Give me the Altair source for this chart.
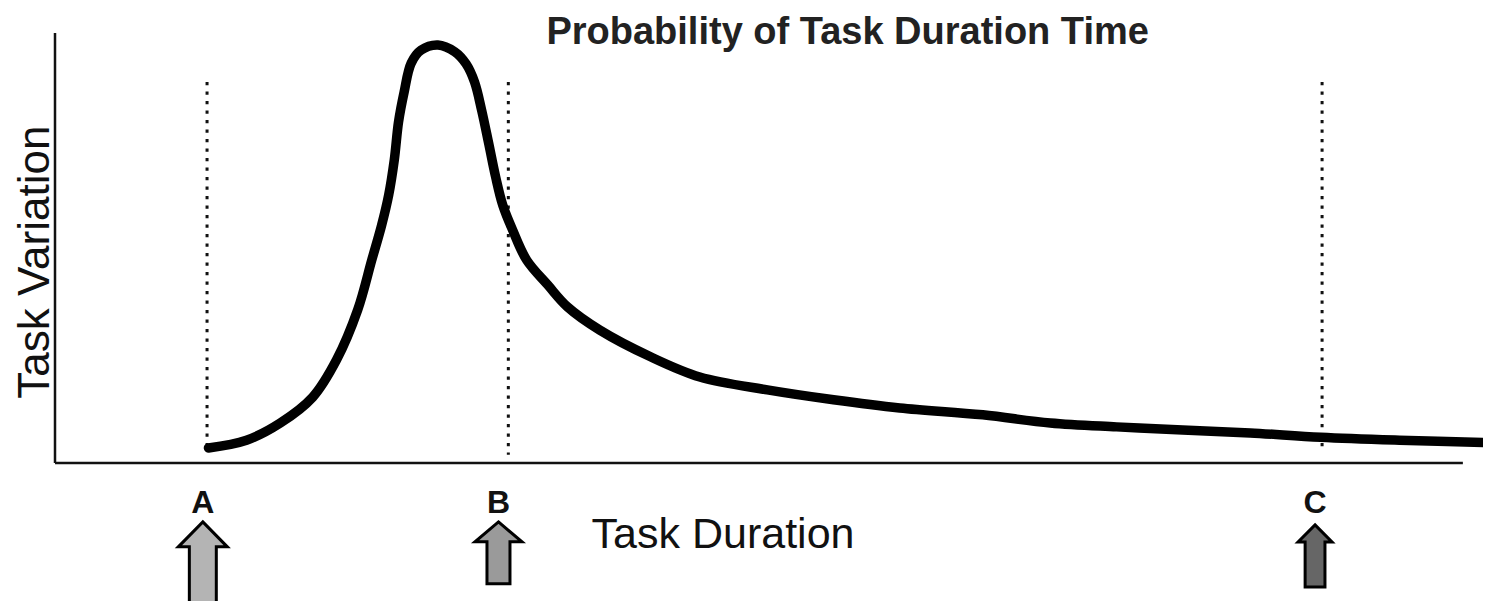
import altair as alt
import pandas as pd

# Curve: task duration (x) vs task variation (y)
curve_x = [10.9, 13.6, 16.0, 18.3, 20.0, 21.5, 22.5, 23.2, 23.7, 24.1, 24.4, 24.8, 25.3, 26.0,
           27.2, 28.4, 29.2, 29.8, 30.3, 30.8, 31.3, 31.8, 32.5, 33.5, 35.0, 36.4, 38.7, 42.3,
           45.8, 50.6, 55.3, 60.0, 65.9, 70.7, 75.4, 80.1, 84.9, 89.9, 95.5, 102.0]
curve_y = [3.5, 5.3, 9.3, 15.3, 24.0, 35.6, 47.2, 55.3, 62.3, 70.5, 79.3, 86.3, 93.0, 96.0,
           97.2, 95.6, 92.8, 88.6, 82.1, 74.4, 66.5, 60.0, 54.2, 47.2, 41.4, 36.3, 30.9, 24.7,
           20.0, 17.0, 14.7, 12.8, 11.2, 9.3, 8.4, 7.7, 7.0, 6.0, 5.3, 4.7]

# Reference points A, B, C
marker_labels = ["A", "B", "C"]
marker_x = [10.8, 32.2, 90.0]
marker_top = [88.6, 88.6, 88.6]
marker_bottom = [3.0, 1.9, 2.6]
label_x = [10.5, 31.5, 89.5]
arrow_y = [-24.5, -20.9, -21.6]
arrow_fill = ["#b4b4b4", "#9a9a9a", "#666666"]
arrow_size = [8649, 3844, 3844]
arrow_shape = [
    "M0,-1 L0.527,-0.462 L0.29,-0.462 L0.29,1 L-0.29,1 L-0.29,-0.462 L-0.527,-0.462 Z",
    "M0,-1 L0.758,-0.355 L0.371,-0.355 L0.371,1 L-0.371,1 L-0.371,-0.355 L-0.758,-0.355 Z",
    "M0,-1 L0.548,-0.45 L0.32,-0.45 L0.32,1 L-0.32,1 L-0.32,-0.45 L-0.548,-0.45 Z",
]

title_text = "Probability of Task Duration Time"
x_title = "Task Duration"
y_title = "Task Variation"

X_DOMAIN = [0, 101.43]
Y_DOMAIN = [0, 100]
FONT = "Liberation Sans"

curve_df = pd.DataFrame({"x": curve_x, "y": curve_y})
marker_df = pd.DataFrame({"label": marker_labels, "x": marker_x, "top": marker_top,
                          "bottom": marker_bottom, "lx": label_x, "ay": arrow_y,
                          "fill": arrow_fill, "size": arrow_size, "shape": arrow_shape})

xs = alt.Scale(domain=X_DOMAIN, nice=False, zero=False)
ys = alt.Scale(domain=Y_DOMAIN, nice=False, zero=False)

axes_df = pd.DataFrame({"x": [0, 0], "x2": [0, 100], "y": [0, 0], "y2": [100, 0]})
axes = alt.Chart(axes_df).mark_rule(color="#111", strokeWidth=2.5).encode(
    x=alt.X("x:Q", scale=xs, axis=None), x2="x2:Q",
    y=alt.Y("y:Q", scale=ys, axis=None), y2="y2:Q")

dotted = alt.Chart(marker_df).mark_rule(color="#111", strokeWidth=3, strokeDash=[3.2, 6.3]).encode(
    x=alt.X("x:Q", scale=xs, axis=None),
    y=alt.Y("top:Q", scale=ys, axis=None), y2="bottom:Q")

curve = alt.Chart(curve_df).mark_line(color="#000", strokeWidth=9.5, interpolate="catmull-rom",
                                      strokeCap="round", strokeJoin="round").encode(
    x=alt.X("x:Q", scale=xs, axis=None),
    y=alt.Y("y:Q", scale=ys, axis=None))

arrows = alt.Chart(marker_df).mark_point(filled=True, stroke="#000", strokeWidth=3, opacity=1).encode(
    x=alt.X("lx:Q", scale=xs, axis=None),
    y=alt.Y("ay:Q", scale=ys, axis=None),
    shape=alt.Shape("shape:N", scale=None),
    size=alt.Size("size:Q", scale=None),
    fill=alt.Fill("fill:N", scale=None))

letters = alt.Chart(marker_df).mark_text(font=FONT, fontSize=32, fontWeight="bold", color="#111",
                                         baseline="alphabetic", align="center").encode(
    x=alt.X("lx:Q", scale=xs, axis=None),
    y=alt.Y("yy:Q", scale=ys, axis=None),
    text="label:N").transform_calculate(yy="-11.6")

text_df = pd.DataFrame({"t": [title_text, x_title], "x": [56.3, 47.45], "y": [97.4, -19.8]})
title = alt.Chart(text_df.iloc[[0]]).mark_text(font=FONT, fontSize=38, fontWeight="bold", color="#222",
                                               baseline="alphabetic", align="center").encode(
    x=alt.X("x:Q", scale=xs, axis=None), y=alt.Y("y:Q", scale=ys, axis=None), text="t:N")
xlabel = alt.Chart(text_df.iloc[[1]]).mark_text(font=FONT, fontSize=43, color="#111",
                                                baseline="alphabetic", align="center").encode(
    x=alt.X("x:Q", scale=xs, axis=None), y=alt.Y("y:Q", scale=ys, axis=None), text="t:N")
ylabel = alt.Chart(pd.DataFrame({"t": [y_title], "x": [-0.4], "y": [46.7]})).mark_text(
    font=FONT, fontSize=44, color="#111", angle=270, baseline="alphabetic", align="center").encode(
    x=alt.X("x:Q", scale=xs, axis=None), y=alt.Y("y:Q", scale=ys, axis=None), text="t:N")

chart = alt.layer(axes, dotted, curve, arrows, letters, title, xlabel, ylabel).properties(
    width=1428, height=430,
    autosize=alt.AutoSizeParams(type="none"),
    padding={"left": 47, "top": 25, "right": 0, "bottom": 138},
).configure(background="white").configure_view(stroke=None)

chart.save("out.html", embed_options={"renderer": "svg", "actions": False})
